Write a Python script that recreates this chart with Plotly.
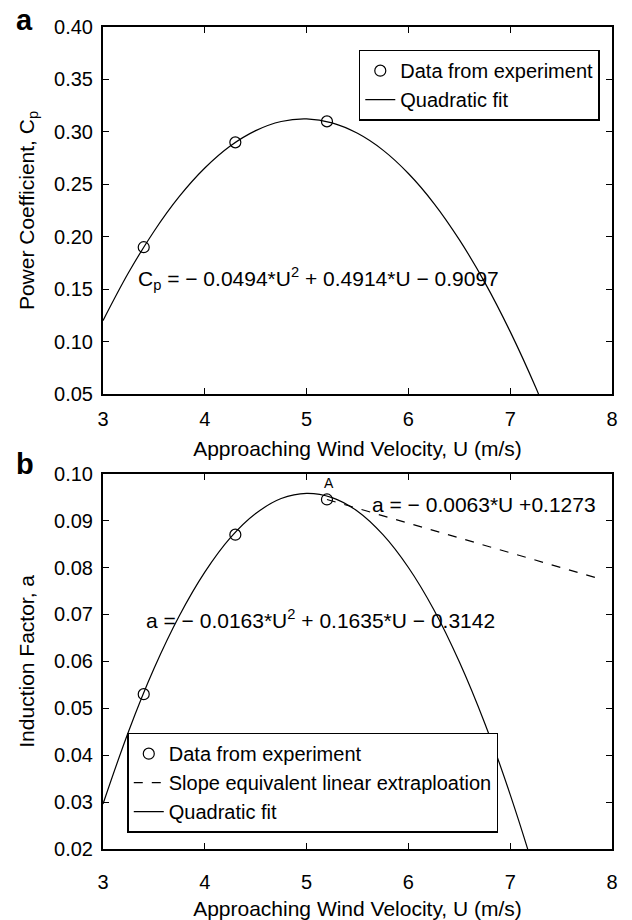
import plotly.graph_objects as go

# ---- data ----
u_exp = [3.4, 4.3, 5.2]
cp_exp = [0.19, 0.29, 0.31]
a_exp = [0.053, 0.087, 0.0945]

u_fit = [3.0, 3.25, 3.5, 3.75, 4.0, 4.25, 4.5, 4.75, 5.0, 5.25, 5.5, 5.75,
         6.0, 6.25, 6.5, 6.75, 7.0, 7.25, 7.5]
cp_fit = [0.120, 0.1656, 0.2050, 0.2384, 0.2655, 0.2865, 0.3012, 0.3099, 0.3123,
          0.3086, 0.2986, 0.2826, 0.2603, 0.2319, 0.1972, 0.1565, 0.1095, 0.0564, -0.003]
a_fit = [0.0296, 0.0450, 0.0584, 0.0697, 0.0790, 0.0863, 0.0915, 0.0947, 0.0958,
         0.0949, 0.0920, 0.0870, 0.0800, 0.0710, 0.0599, 0.0468, 0.0316, 0.0144, -0.0048]

u_lin = [5.2, 7.91]
a_lin = [0.0945, 0.0774]

x_ticks = [3, 4, 5, 6, 7, 8]
cp_ticks = [0.05, 0.10, 0.15, 0.20, 0.25, 0.30, 0.35, 0.40]
a_ticks = [0.02, 0.03, 0.04, 0.05, 0.06, 0.07, 0.08, 0.09, 0.10]

FONT = "Liberation Sans, Arial, sans-serif"

fig = go.Figure()

# top panel
fig.add_trace(go.Scatter(x=u_exp, y=cp_exp, mode="markers", name="Data from experiment",
                         marker=dict(symbol="circle-open", size=11, color="black", line=dict(width=1.2)),
                         xaxis="x", yaxis="y", legend="legend"))
fig.add_trace(go.Scatter(x=u_fit, y=cp_fit, mode="lines", name="Quadratic fit",
                         line=dict(color="black", width=1.2, shape="spline"),
                         xaxis="x", yaxis="y", legend="legend"))

# bottom panel
fig.add_trace(go.Scatter(x=u_exp, y=a_exp, mode="markers", name="Data from experiment",
                         marker=dict(symbol="circle-open", size=11, color="black", line=dict(width=1.2)),
                         xaxis="x2", yaxis="y2", legend="legend2"))
fig.add_trace(go.Scatter(x=u_lin, y=a_lin, mode="lines", name="Slope equivalent linear extraploation",
                         line=dict(color="black", width=1.2, dash="dash"),
                         xaxis="x2", yaxis="y2", legend="legend2"))
fig.add_trace(go.Scatter(x=u_fit, y=a_fit, mode="lines", name="Quadratic fit",
                         line=dict(color="black", width=1.2, shape="spline"),
                         xaxis="x2", yaxis="y2", legend="legend2"))

axis_common = dict(showline=True, linecolor="black", linewidth=2, mirror="ticks",
                   ticks="inside", ticklen=6, tickwidth=1, tickcolor="black",
                   showgrid=False, zeroline=False, automargin=False,
                   tickfont=dict(family=FONT, size=20, color="black"))

fig.update_layout(
    width=632, height=920,
    margin=dict(l=103, r=20, t=27, b=71),
    paper_bgcolor="white", plot_bgcolor="white",
    font=dict(family=FONT, color="black"),
    showlegend=True,
    xaxis=dict(domain=[0, 1], anchor="y", range=[3, 8], tickvals=x_ticks,
               title=dict(text="Approaching Wind Velocity, U (m/s)", font=dict(size=21), standoff=12),
               ticklabelstandoff=6, **axis_common),
    yaxis=dict(domain=[0.5535, 1], anchor="x", range=[0.05, 0.40], tickvals=cp_ticks,
               tickformat=".2f",
               title=dict(text="Power Coefficient, C<sub>p</sub>", font=dict(size=21), standoff=14),
               ticklabelstandoff=4, **axis_common),
    xaxis2=dict(domain=[0, 1], anchor="y2", range=[3, 8], tickvals=x_ticks,
                title=dict(text="Approaching Wind Velocity, U (m/s)", font=dict(size=21), standoff=19),
                ticklabelstandoff=14, **axis_common),
    yaxis2=dict(domain=[0, 0.4566], anchor="x2", range=[0.02, 0.10], tickvals=a_ticks,
                tickformat=".2f",
                title=dict(text="Induction Factor, a", font=dict(size=21), standoff=14),
                ticklabelstandoff=4, **axis_common),
    legend=dict(x=0.976, y=0.9724, xanchor="right", yanchor="top",
                bgcolor="white", bordercolor="black", borderwidth=1.5,
                font=dict(family=FONT, size=20, color="black"),
                tracegroupgap=0, itemwidth=30),
    legend2=dict(x=0.0477, y=0.1415, xanchor="left", yanchor="top",
                 bgcolor="white", bordercolor="black", borderwidth=1.5,
                 font=dict(family=FONT, size=20, color="black"),
                 tracegroupgap=0, itemwidth=30),
)

annotations = [
    dict(text="<b>a</b>", xref="paper", yref="paper", x=-0.154, y=1.008, xanchor="center",
         yanchor="middle", showarrow=False, font=dict(family=FONT, size=29, color="black")),
    dict(text="<b>b</b>", xref="paper", yref="paper", x=-0.154, y=0.468, xanchor="center",
         yanchor="middle", showarrow=False, font=dict(family=FONT, size=29, color="black")),
    dict(text="C<sub>p</sub> = − 0.0494*U<sup>2</sup> + 0.4914*U − 0.9097", xref="x", yref="y",
         x=3.32, y=0.160, xanchor="left", yanchor="middle", showarrow=False,
         font=dict(family=FONT, size=21, color="black")),
    dict(text="a = − 0.0163*U<sup>2</sup> + 0.1635*U − 0.3142", xref="x2", yref="y2",
         x=3.40, y=0.0690, xanchor="left", yanchor="middle", showarrow=False,
         font=dict(family=FONT, size=21, color="black")),
    dict(text="a = − 0.0063*U +0.1273", xref="x2", yref="y2",
         x=5.62, y=0.0935, xanchor="left", yanchor="middle", showarrow=False,
         font=dict(family=FONT, size=21, color="black")),
    dict(text="A", xref="x2", yref="y2", x=5.22, y=0.0980, xanchor="center", yanchor="middle",
         showarrow=False, font=dict(family=FONT, size=14, color="black")),
]
fig.update_layout(annotations=annotations)

fig.write_html("out.html")
